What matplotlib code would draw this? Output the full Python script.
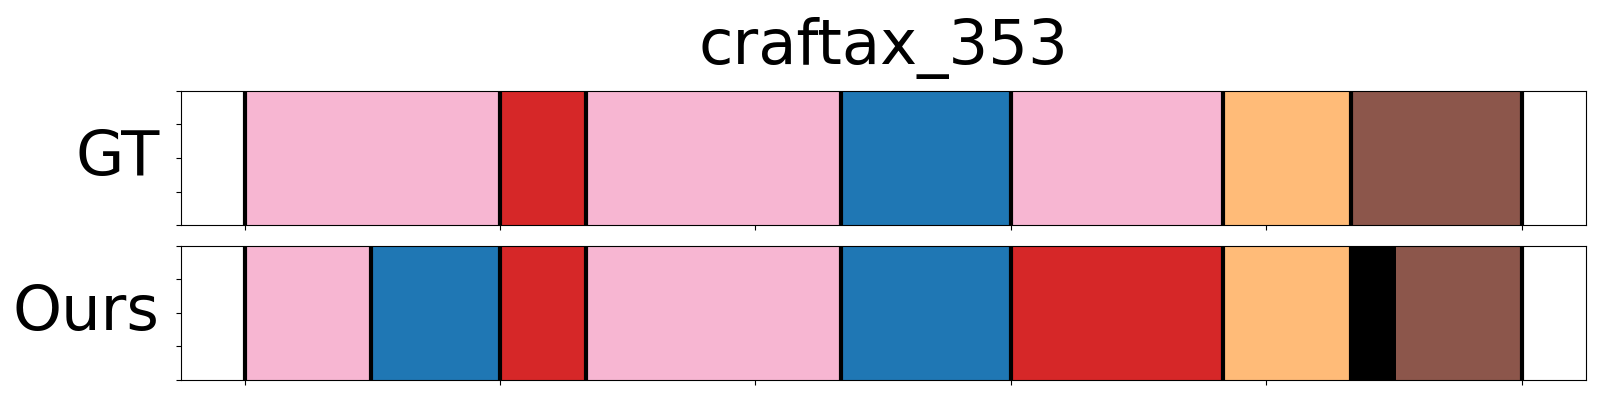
import matplotlib
matplotlib.use("Agg")
import matplotlib.pyplot as plt
import numpy as np

title = "craftax_353"
row_labels = ["GT", "Ours"]

# segment boundaries (frames) and class colours for each row
gt_bounds = [0, 100, 133.5, 233.3, 300, 383, 433.2, 500]
gt_colors = ["#f7b6d2", "#d62728", "#f7b6d2", "#1f77b4", "#f7b6d2", "#ffbb78", "#8c564b"]

ours_bounds = [0, 49.3, 100, 133.5, 233.3, 300, 383, 433.2, 450.8, 500]
ours_colors = ["#f7b6d2", "#1f77b4", "#d62728", "#f7b6d2", "#1f77b4", "#d62728", "#ffbb78", "#000000", "#8c564b"]

x_ticks = [0, 100, 200, 300, 400, 500]
y_ticks = [0, 0.25, 0.5, 0.75, 1.0]

fig, axes = plt.subplots(2, 1, figsize=(16, 4), dpi=100)
fig.subplots_adjust(left=0.113, right=0.991, top=0.773, bottom=0.05, hspace=0.152)

rows = [(gt_bounds, gt_colors), (ours_bounds, ours_colors)]
for ax, label, (bounds, colors) in zip(axes, row_labels, rows):
    b = np.array(bounds, dtype=float)
    lefts = b[:-1]
    widths = np.diff(b)
    ax.barh(0.5, widths, left=lefts, height=1.0, color=colors, edgecolor="none")
    line_pos = [x for i, x in enumerate(b) if not (i > 0 and i < len(b) - 1 and colors[i - 1] == "#000000")]
    ax.vlines(line_pos, 0, 1, colors="black", linewidth=3)
    span = b[-1] - b[0]
    ax.set_xlim(b[0] - 0.05 * span, b[-1] + 0.05 * span)
    ax.set_ylim(0, 1)
    ax.set_xticks(x_ticks)
    ax.set_yticks(y_ticks)
    ax.set_xticklabels([])
    ax.set_yticklabels([])
    ax.text(-0.0149, 0.5, label, fontsize=45, ha="right", va="center", transform=ax.transAxes)

axes[0].set_title(title, fontsize=45, pad=19)

fig.savefig("out.png", dpi=100)
